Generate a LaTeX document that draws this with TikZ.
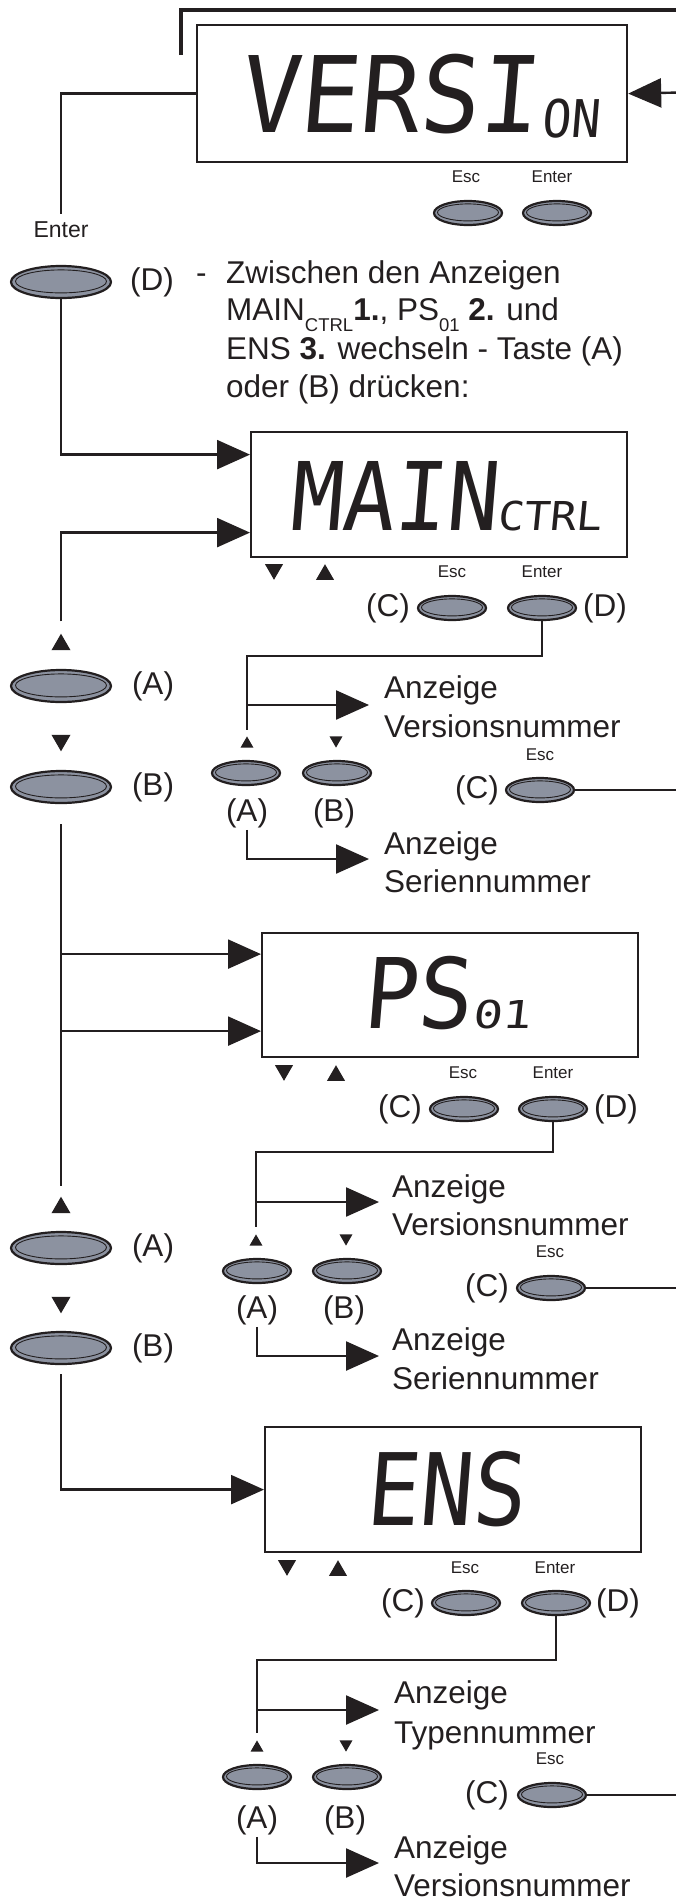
\documentclass[tikz,border=0pt]{standalone}
\usepackage{fontspec}
\setmainfont{Liberation Sans}
\newfontfamily\lcdfont{DejaVu Sans Mono}[FakeSlant=0.09]
\usetikzlibrary{arrows.meta,shapes.geometric}
\definecolor{ink}{RGB}{35,31,32}
\definecolor{btnfill}{RGB}{140,146,160}
\newcommand\mainfs{\fontsize{31.5}{38}\selectfont}
\newcommand\escfs{\fontsize{17}{20}\selectfont}
\newcommand\enterfs{\fontsize{23}{27}\selectfont}
\newcommand\subfs{\fontsize{18.5}{19}\selectfont}
\newcommand\lowsub[1]{\raisebox{-11.5pt}[0pt][0pt]{\subfs #1}}
\newcommand\lcdtext[3]{\scalebox{#2}[1]{\lcdfont\fontsize{#1}{#1}\selectfont #3}}
\begin{document}
\begin{tikzpicture}[x=1pt,y=-1pt,
  dispbox/.style={draw=ink, line width=2.2pt, inner sep=0pt, anchor=north west},
  lcd/.style={inner sep=0pt, anchor=base west, text=ink},
  pbtn/.style n args={4}{ellipse, draw=ink, line width=2.2pt, fill=btnfill, inner sep=0pt,
     minimum width=#1, minimum height=#2,
     path picture={\draw[ink, line width=0.9pt] ([yshift=0.6pt]path picture bounding box.center) ellipse [x radius=#3, y radius=#4];}},
  btn/.style={pbtn={68pt}{24pt}{30.5pt}{8.5pt}},
  bigbtn/.style={pbtn={100pt}{32pt}{45.5pt}{11.5pt}},
  tri/.style={regular polygon, regular polygon sides=3, fill=ink, draw=none, inner sep=0pt, minimum size=#1},
  triup/.style={tri=#1},
  tridn/.style={tri=#1, shape border rotate=180},
  wire/.style={draw=ink, line width=2.4pt},
  arr/.style={draw=ink, line width=2.4pt, -{Triangle[length=33pt, width=29pt]}},
  topline/.style={draw=ink, line width=4.5pt},
  lbl/.style={font=\mainfs, inner sep=0pt, text=ink},
  txt/.style={font=\mainfs, inner sep=0pt, text=ink, anchor=base west},
  esclbl/.style={font=\escfs, inner sep=0pt, text=ink},
  enterlbl/.style={font=\enterfs, inner sep=0pt, text=ink}
]
\useasboundingbox (0,0) rectangle (676,1899);

% ---------- VERSION ----------
\coordinate (tl1) at (181,55);
\coordinate (tl2) at (680,10);
\draw[topline] (tl1) |- (tl2);
\node[dispbox, minimum width=430pt, minimum height=137pt] (vbox) at (196,24) {};
\node[lcd] (vtxt) at (239,132) {\lcdtext{105.6}{0.94}{VERSI}\kern3pt\raisebox{-5pt}{\lcdtext{52}{0.93}{ON}}};
\coordinate (vin) at (680,92.5);
\draw[arr] (vin) -- (vbox.east);
\node[esclbl] (vEscL) at (466,177) {Esc};
\node[esclbl] (vEntL) at (552,177) {Enter};
\node[btn] (vEsc) at (468,213) {};
\node[btn] (vEnt) at (557,213) {};

% ---------- left column top ----------
\node[enterlbl] (lEnter) at (61,230) {Enter};
\draw[wire, shorten >=8pt] (vbox.west) -| (lEnter.north);
\node[bigbtn] (lD) at (61,282) {};
\node[lbl] (lDl) at (152,282) {(D)};

% ---------- description ----------
\node[txt] (dash) at (196,283) {-};
\node[txt] (t1) at (226,283) {Zwischen den Anzeigen};
\node[txt] (t2) at (226,320) {MAIN\lowsub{CTRL}\textbf{1.}, PS\lowsub{01} \textbf{2.} und};
\node[txt] (t3) at (226,359) {ENS \textbf{3.} wechseln - Taste (A)};
\node[txt] (t4) at (226,397) {oder (B) drücken:};

% ---------- MAIN ----------
\node[dispbox, minimum width=376pt, minimum height=125pt] (mbox) at (250,431) {};
\node[lcd] (mtxt) at (289,530) {\lcdtext{94.7}{0.915}{MAIN}};
\node[lcd] (msub) at (497,530) {\lcdtext{39.8}{1.09}{CTRL}};
\draw[arr] (lD.south) |- ([yshift=40pt]mbox.west);
\node[tridn={20.8pt}] (mDn) at (274,569.4) {};
\node[triup={20.8pt}] (mUp) at (325,574.6) {};
\node[esclbl] (mEscL) at (452,572) {Esc};
\node[esclbl] (mEntL) at (542,572) {Enter};
\node[btn] (mEsc) at (452,608) {};
\node[btn] (mEnt) at (542,608) {};
\node[lbl] (mCl) at (388,608) {(C)};
\node[lbl] (mDl) at (605,608) {(D)};

% left column group 1
\node[triup={22pt}] (lUp1) at (61,644.7) {};
\draw[arr, shorten <=12pt] (lUp1.north) |- ([yshift=-38pt]mbox.west);
\node[bigbtn] (lA1) at (61,686) {};
\node[lbl] (lA1l) at (153,686) {(A)};
\node[tridn={22pt}] (lDn1) at (61,740.3) {};
\node[bigbtn] (lB1) at (61,787) {};
\node[lbl] (lB1l) at (153,787) {(B)};

% MAIN sub-block
\coordinate (mJ) at (247,656);
\coordinate (mE) at (247,730);
\draw[wire] (mEnt.south) |- (mJ) -- (mE);
\coordinate (mB1) at (247,705);
\coordinate (mT1) at (369,705);
\draw[arr] (mB1) -- (mT1);
\node[txt] (mV1) at (384,698) {Anzeige};
\node[txt] (mV2) at (384,737) {Versionsnummer};
\node[triup={15pt}] (mUpS) at (247,743.9) {};
\node[tridn={15pt}] (mDnS) at (336,740.1) {};
\node[btn] (mA) at (246,773) {};
\node[btn] (mB) at (337,773) {};
\node[lbl] (mAl) at (247,813) {(A)};
\node[lbl] (mBl) at (334,813) {(B)};
\coordinate (mT2) at (369,859);
\draw[arr, shorten <=2pt] (mAl.south) |- (mT2);
\node[txt] (mS1) at (384,854) {Anzeige};
\node[txt] (mS2) at (384,892) {Seriennummer};
\node[esclbl] (mEscL2) at (540,755) {Esc};
\node[btn] (mEsc2) at (540,790) {};
\node[lbl] (mCl2) at (477,790) {(C)};
\coordinate (mR) at (680,790);
\draw[wire] (mEsc2.east) -- (mR);

% ---------- PS ----------
\node[dispbox, minimum width=376pt, minimum height=124pt] (pbox) at (261,932) {};
\node[lcd] (ptxt) at (362,1028) {\lcdtext{97.4}{0.93}{PS}};
\node[lcd] (psub) at (472,1028) {\lcdtext{38.4}{1.28}{01}};
\coordinate (pIn1) at ([yshift=41pt]pbox.west);
\coordinate (pIn2) at ([yshift=-36pt]pbox.west);
\node[triup={22pt}] (lUp2) at (61,1207.7) {};
\draw[wire, shorten <=20pt, shorten >=10pt] (lB1.south) -- (lUp2.north);
\draw[arr] (pIn1 -| lB1) -- (pIn1);
\draw[arr] (pIn2 -| lB1) -- (pIn2);
\node[tridn={20.8pt}] (pDn) at (284,1070.4) {};
\node[triup={20.8pt}] (pUp) at (336,1075.6) {};
\node[esclbl] (pEscL) at (463,1073) {Esc};
\node[esclbl] (pEntL) at (553,1073) {Enter};
\node[btn] (pEsc) at (464,1109) {};
\node[btn] (pEnt) at (553,1109) {};
\node[lbl] (pCl) at (400,1109) {(C)};
\node[lbl] (pDl) at (616,1109) {(D)};

% PS sub-block
\coordinate (pJ) at (256,1152);
\coordinate (pE) at (256,1227);
\draw[wire] (pEnt.south) |- (pJ) -- (pE);
\coordinate (pB1) at (256,1202);
\coordinate (pT1) at (379,1202);
\draw[arr] (pB1) -- (pT1);
\node[txt] (pV1) at (392,1197) {Anzeige};
\node[txt] (pV2) at (392,1235) {Versionsnummer};
\node[triup={15pt}] (pUpS) at (256,1241.9) {};
\node[tridn={15pt}] (pDnS) at (346,1238.1) {};
\node[btn] (psA) at (257,1271) {};
\node[btn] (psB) at (347,1271) {};
\node[lbl] (pAl) at (257,1310) {(A)};
\node[lbl] (pBl) at (344,1310) {(B)};
\coordinate (pT2) at (379,1356);
\draw[arr, shorten <=2pt] (pAl.south) |- (pT2);
\node[txt] (pS1) at (392,1350) {Anzeige};
\node[txt] (pS2) at (392,1389) {Seriennummer};
\node[esclbl] (pEscL2) at (550,1252) {Esc};
\node[btn] (pEsc2) at (551,1288) {};
\node[lbl] (pCl2) at (487,1288) {(C)};
\coordinate (pR) at (680,1288);
\draw[wire] (pEsc2.east) -- (pR);

% left column group 2
\node[bigbtn] (lA2) at (61,1248) {};
\node[lbl] (lA2l) at (153,1248) {(A)};
\node[tridn={22pt}] (lDn2) at (61,1302.3) {};
\node[bigbtn] (lB2) at (61,1348) {};
\node[lbl] (lB2l) at (153,1348) {(B)};

% ---------- ENS ----------
\node[dispbox, minimum width=376pt, minimum height=125pt] (ebox) at (264,1426) {};
\node[lcd] (etxt) at (365,1525) {\lcdtext{100}{0.88}{ENS}};
\draw[arr, shorten <=9pt] (lB2.south) |- (ebox.west);
\node[tridn={20.8pt}] (eDn) at (287,1565.4) {};
\node[triup={20.8pt}] (eUp) at (338,1570.6) {};
\node[esclbl] (eEscL) at (465,1568) {Esc};
\node[esclbl] (eEntL) at (555,1568) {Enter};
\node[btn] (eEsc) at (466,1603) {};
\node[btn] (eEnt) at (556,1603) {};
\node[lbl] (eCl) at (403,1603) {(C)};
\node[lbl] (eDl) at (618,1603) {(D)};

% ENS sub-block
\coordinate (eJ) at (257,1660);
\coordinate (eE) at (257,1733);
\draw[wire] (eEnt.south) |- (eJ) -- (eE);
\coordinate (eB1) at (257,1710);
\coordinate (eT1) at (379,1710);
\draw[arr] (eB1) -- (eT1);
\node[txt] (eV1) at (394,1703) {Anzeige};
\node[txt] (eV2) at (394,1743) {Typennummer};
\node[triup={15pt}] (eUpS) at (257,1747.9) {};
\node[tridn={15pt}] (eDnS) at (346,1744.1) {};
\node[btn] (esA) at (257,1777) {};
\node[btn] (esB) at (347,1777) {};
\node[lbl] (eAl) at (257,1820) {(A)};
\node[lbl] (eBl) at (345,1820) {(B)};
\coordinate (eT2) at (379,1863);
\draw[arr, shorten <=2pt] (eAl.south) |- (eT2);
\node[txt] (eS1) at (394,1858) {Anzeige};
\node[txt] (eS2) at (394,1896) {Versionsnummer};
\node[esclbl] (eEscL2) at (550,1759) {Esc};
\node[btn] (eEsc2) at (552,1795) {};
\node[lbl] (eCl2) at (487,1795) {(C)};
\coordinate (eR) at (680,1795);
\draw[wire] (eEsc2.east) -- (eR);
\end{tikzpicture}
\end{document}
